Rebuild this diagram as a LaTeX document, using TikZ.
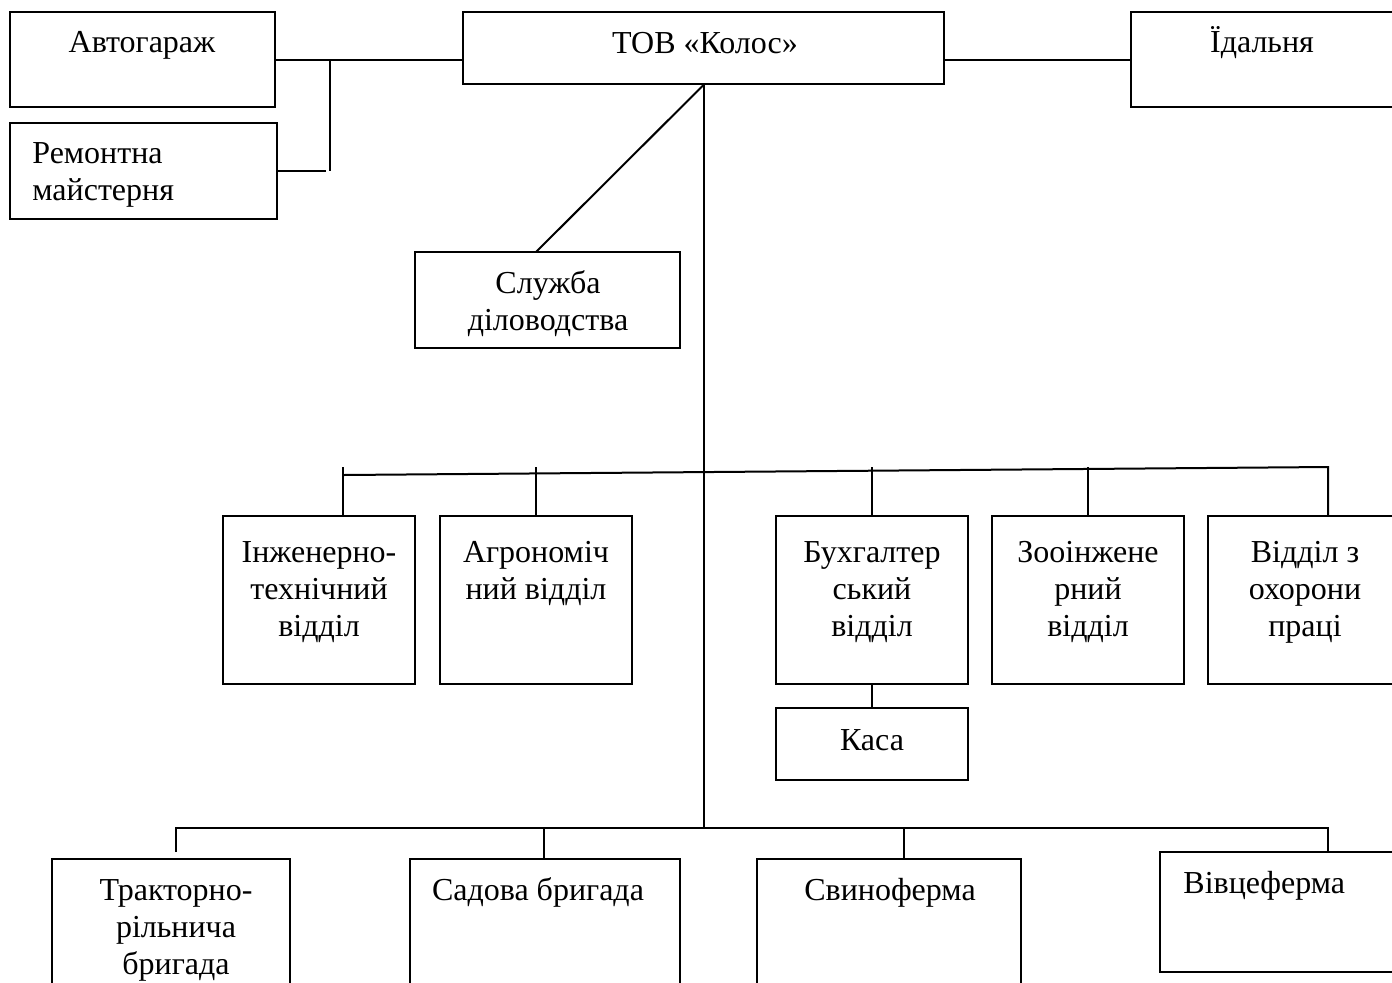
\documentclass[tikz,border=0pt]{standalone}
\usepackage{fontspec}
\setmainfont{Liberation Serif}
\usetikzlibrary{fit}
\begin{document}
\begin{tikzpicture}[x=0.5pt,y=-0.5pt,
  box/.style={draw, line width=1pt, inner sep=0pt},
  txt/.style={font=\fontsize{16}{18.5}\selectfont, inner sep=0pt, anchor=base, align=center},
  txtl/.style={font=\fontsize{16}{18.5}\selectfont, inner sep=0pt, anchor=base west, align=left},
  conn/.style={line width=1pt}]
\useasboundingbox (0,0) rectangle (1392,982);
\clip (0,0) rectangle (1392,982);
% boxes
\node[box, fit={(10,12) (275,107)}] (gar) {};
\node[box, fit={(10,123) (277,219)}] (rem) {};
\node[box, fit={(463,12) (944,84)}] (tov) {};
\node[box, fit={(1131,12) (1400,107)}] (ida) {};
\node[box, fit={(415,252) (680,348)}] (sl) {};
\node[box, fit={(223,516) (415,684)}] (inz) {};
\node[box, fit={(440,516) (632,684)}] (agr) {};
\node[box, fit={(776,516) (968,684)}] (buh) {};
\node[box, fit={(992,516) (1184,684)}] (zoo) {};
\node[box, fit={(1208,516) (1402,684)}] (vid) {};
\node[box, fit={(776,708) (968,780)}] (kas) {};
\node[box, fit={(52,859) (290,1010)}] (tra) {};
\node[box, fit={(410,859) (680,1010)}] (sad) {};
\node[box, fit={(757,859) (1021,1010)}] (svy) {};
\node[box, fit={(1160,852) (1402,972)}] (viv) {};
% texts (anchor = baseline of the last line)
\node[txt] (tgar) at (142,52) {Автогараж};
\node[txtl] (trem) at (32,200) {Ремонтна\\майстерня};
\node[txt] (ttov) at (705,53) {ТОВ «Колос»};
\node[txt] (tida) at (1262,52) {Їдальня};
\node[txt] (tsl) at (548,330) {Служба\\діловодства};
\node[txt] (tinz) at (319,636) {Інженерно-\\технічний\\відділ};
\node[txt] (tagr) at (536,599) {Агрономіч\\ний відділ};
\node[txt] (tbuh) at (872,636) {Бухгалтер\\ський\\відділ};
\node[txt] (tzoo) at (1088,636) {Зооінжене\\рний\\відділ};
\node[txt] (tvid) at (1305,636) {Відділ з\\охорони\\праці};
\node[txt] (tkas) at (872,750) {Каса};
\node[txt] (ttra) at (176,974) {Тракторно-\\рільнича\\бригада};
\node[txt] (tsad) at (538,900) {Садова бригада};
\node[txt] (tsvy) at (890,900) {Свиноферма};
\node[txtl] (tviv) at (1183,893) {Вівцеферма};
% junction coordinates
\coordinate (j1) at (330,59.5);
\coordinate (j2) at (330,171);
\coordinate (j3) at (326,171);
\coordinate (d1) at (536,252);
\coordinate (bj) at (703.5,828);
\coordinate (mL) at (343,475);
\coordinate (mR) at (1328,467);
\coordinate (tk1) at (343,467);
\coordinate (tk2) at (536,467);
\coordinate (tk3) at (872,467);
\coordinate (tk4) at (1088,467);
\coordinate (bL) at (176,828);
\coordinate (bL2) at (176,852);
\coordinate (bR) at (1328,828);
\coordinate (b2) at (544,828);
\coordinate (b3) at (904,828);
% connectors
\draw[conn] (gar.east) -- (gar.east -| tov.west);
\draw[conn] (j1) -- (j2);
\draw[conn] (rem.east) -- (j3);
\draw[conn] (ida.west) -- (ida.west -| tov.east);
\draw[conn] (tov.south) -- (d1);
\draw[conn] (tov.south) -- (bj);
\draw[conn] (mL) -- (mR) -- (mR |- vid.north);
\draw[conn] (tk1) -- (tk1 |- inz.north);
\draw[conn] (tk2) -- (tk2 |- agr.north);
\draw[conn] (tk3) -- (tk3 |- buh.north);
\draw[conn] (tk4) -- (tk4 |- zoo.north);
\draw[conn] (buh.south) -- (kas.north);
\draw[conn] (bL2) -- (bL) -- (bR) -- (bR |- viv.north);
\draw[conn] (b2) -- (b2 |- sad.north);
\draw[conn] (b3) -- (b3 |- svy.north);
\end{tikzpicture}
\end{document}
